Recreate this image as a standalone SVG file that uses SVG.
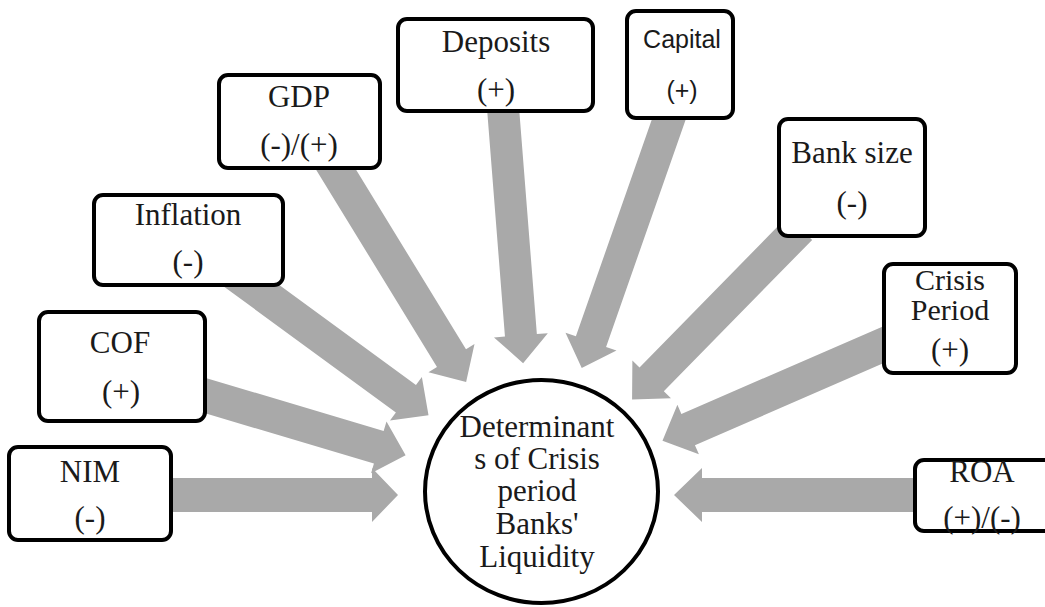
<svg xmlns="http://www.w3.org/2000/svg" width="1045" height="607" viewBox="0 0 1045 607">
  <style>
    .box { fill: #ffffff; stroke: #000000; stroke-width: 4; }
    .hub { fill: #ffffff; stroke: #000000; stroke-width: 4; }
    .arrow { fill: #a9a9a9; stroke: none; }
    .lbl { font-family: "Liberation Serif", "Times New Roman", serif; font-size: 31px; fill: #1a1a1a; text-anchor: middle; }
    .lbl-tight { font-size: 30px; }
    .lbl-sans { font-family: "Liberation Sans", Arial, sans-serif; font-size: 25px; fill: #1a1a1a; text-anchor: middle; }
  </style>

  <!-- block arrows: drawn along +x from the tail, then placed with translate/rotate -->
  <g id="connectors">
    <polygon class="arrow" transform="translate(150,495) rotate(0)" points="0,-17 222,-17 222,-27 248,0 222,27 222,17 0,17"/>
    <polygon class="arrow" transform="translate(190,391) rotate(16.6)" points="0,-17 197,-17 197,-27 225,0 197,27 197,17 0,17"/>
    <polygon class="arrow" transform="translate(230,270) rotate(36.2)" points="0,-17 218,-17 218,-27 246,0 218,27 218,17 0,17"/>
    <polygon class="arrow" transform="translate(324,150) rotate(58.5)" points="0,-17 244,-17 244,-27 272,0 244,27 244,17 0,17"/>
    <polygon class="arrow" transform="translate(502,95) rotate(85.5)" points="0,-16 241,-16 241,-27 269,0 241,27 241,16 0,16"/>
    <polygon class="arrow" transform="translate(675.6,100) rotate(109.3)" points="0,-16 256,-16 256,-27 284,0 256,27 256,16 0,16"/>
    <polygon class="arrow" transform="translate(800,228) rotate(134.4)" points="0,-17 212,-17 212,-27 240,0 212,27 212,17 0,17"/>
    <polygon class="arrow" transform="translate(900,337.5) rotate(156.5)" points="0,-17 231,-17 231,-27 259,0 231,27 231,17 0,17"/>
    <polygon class="arrow" transform="translate(930,495) rotate(180)" points="0,-17 228,-17 228,-27 256,0 228,27 228,17 0,17"/>
  </g>

  <g id="node-nim">
    <rect class="box" x="9" y="447" width="162" height="93" rx="9"/>
    <text class="lbl" x="90" y="482">NIM</text>
    <text class="lbl" x="90" y="528">(-)</text>
  </g>

  <g id="node-cof">
    <rect class="box" x="39" y="312" width="166" height="109" rx="9"/>
    <text class="lbl" x="120" y="353">COF</text>
    <text class="lbl" x="121" y="402">(+)</text>
  </g>

  <g id="node-inflation">
    <rect class="box" x="94" y="195" width="189" height="90" rx="9"/>
    <text class="lbl" x="188" y="225">Inflation</text>
    <text class="lbl" x="188" y="272">(-)</text>
  </g>

  <g id="node-gdp">
    <rect class="box" x="219" y="75" width="161" height="93" rx="9"/>
    <text class="lbl" x="299" y="107">GDP</text>
    <text class="lbl" x="299" y="155">(-)/(+)</text>
  </g>

  <g id="node-deposits">
    <rect class="box" x="398" y="19" width="195" height="92" rx="9"/>
    <text class="lbl" x="496" y="52">Deposits</text>
    <text class="lbl" x="496" y="100">(+)</text>
  </g>

  <g id="node-capital">
    <rect class="box" x="627" y="11" width="106" height="107" rx="9"/>
    <text class="lbl-sans" x="682" y="48">Capital</text>
    <text class="lbl-sans" x="682" y="99">(+)</text>
  </g>

  <g id="node-bank-size">
    <rect class="box" x="779" y="119" width="146" height="117" rx="9"/>
    <text class="lbl" x="852" y="163">Bank size</text>
    <text class="lbl" x="852" y="213">(-)</text>
  </g>

  <g id="node-crisis-period">
    <rect class="box" x="884" y="264" width="132" height="109" rx="9"/>
    <text class="lbl lbl-tight" x="950" y="290">Crisis</text>
    <text class="lbl lbl-tight" x="950" y="320">Period</text>
    <text class="lbl" x="950" y="360">(+)</text>
  </g>

  <g id="node-roa">
    <rect class="box" x="915" y="460" width="140" height="71" rx="9"/>
    <text class="lbl" x="982" y="482">ROA</text>
    <text class="lbl" x="982" y="528">(+)/(-)</text>
  </g>

  <g id="node-liquidity">
    <ellipse class="hub" cx="541.5" cy="491.5" rx="116.5" ry="111.5"/>
    <text class="lbl" x="537" y="437">Determinant</text>
    <text class="lbl" x="537" y="469">s of Crisis</text>
    <text class="lbl" x="537" y="501">period</text>
    <text class="lbl" x="537" y="534">Banks'</text>
    <text class="lbl" x="537" y="567">Liquidity</text>
  </g>
</svg>
